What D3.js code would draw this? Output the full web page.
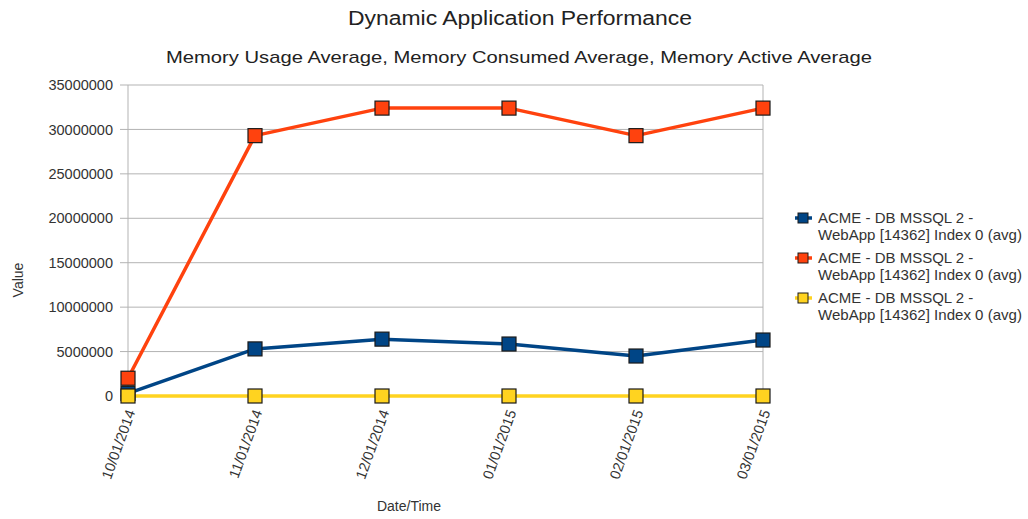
<!DOCTYPE html>
<html><head><meta charset="utf-8">
<script src="https://cdn.jsdelivr.net/npm/d3@7"></script>
<style>body{margin:0;background:#fff}svg{display:block;font-family:"Liberation Sans",Arial,sans-serif}</style>
</head><body><svg id="c" width="1028" height="519"></svg>
<script>
const categories = ["10/01/2014","11/01/2014","12/01/2014","01/01/2015","02/01/2015","03/01/2015"];
const seriesNames = ["ACME - DB MSSQL 2 - WebApp [14362] Index 0 (avg)","ACME - DB MSSQL 2 - WebApp [14362] Index 0 (avg)","ACME - DB MSSQL 2 - WebApp [14362] Index 0 (avg)"];
const usage = [300000, 5300000, 6400000, 5850000, 4500000, 6300000];
const consumed = [2000000, 29300000, 32400000, 32400000, 29300000, 32400000];
const active = [0, 0, 0, 0, 0, 0];
const yTicks = [0,5000000,10000000,15000000,20000000,25000000,30000000,35000000];
const colors = ["#004586","#ff420e","#ffd320"];
const series = [usage, consumed, active];

const svg = d3.select("#c");
const x = d3.scalePoint().domain(categories).range([128, 763]);
const y = d3.scaleLinear().domain([0, 35000000]).range([396, 85]);

// titles
svg.append("text").attr("x",520).attr("y",25).attr("text-anchor","middle")
  .attr("font-size",20).attr("fill","#222").attr("textLength",344).attr("lengthAdjust","spacingAndGlyphs")
  .text("Dynamic Application Performance");
svg.append("text").attr("x",519).attr("y",63).attr("text-anchor","middle")
  .attr("font-size",17).attr("fill","#222").attr("textLength",706).attr("lengthAdjust","spacingAndGlyphs")
  .text("Memory Usage Average, Memory Consumed Average, Memory Active Average");

// grid
svg.append("g").selectAll("line").data(yTicks).join("line")
  .attr("x1",120).attr("x2",763).attr("y1",d=>y(d)).attr("y2",d=>y(d))
  .attr("stroke","#b3b3b3").attr("stroke-width",1);
svg.append("line").attr("x1",763).attr("x2",763).attr("y1",y(35000000)).attr("y2",y(0)).attr("stroke","#b3b3b3");
svg.append("line").attr("x1",128).attr("x2",128).attr("y1",y(35000000)).attr("y2",y(0)+5).attr("stroke","#b3b3b3");

// y axis labels
const yAxis = d3.axisLeft(y).tickValues(yTicks).tickSize(0).tickPadding(15).tickFormat(d3.format("d"));
const ya = svg.append("g").attr("transform","translate(128,0)").call(yAxis);
ya.select(".domain").remove();
ya.selectAll("text").attr("font-size",14.5).attr("fill","#333").attr("font-family","Liberation Sans, Arial, sans-serif");

// x axis labels
const xAxis = d3.axisBottom(x).tickSize(0).tickPadding(0);
const xa = svg.append("g").attr("transform","translate(0,396)").call(xAxis);
xa.select(".domain").remove();
xa.selectAll("text").attr("font-size",14.5).attr("fill","#333").attr("font-family","Liberation Sans, Arial, sans-serif")
  .attr("text-anchor","end").attr("dy",0).attr("y",0)
  .attr("transform","translate(7,16) rotate(-70)");

// axis titles
svg.append("text").attr("transform","translate(23,280) rotate(-90)").attr("text-anchor","middle")
  .attr("font-size",14).attr("fill","#333").text("Value");
svg.append("text").attr("x",409).attr("y",511).attr("text-anchor","middle")
  .attr("font-size",14).attr("fill","#333").text("Date/Time");

// lines and markers
const line = d3.line().x((d,i)=>x(categories[i])).y(d=>y(d));
series.forEach((s,k)=>{
  svg.append("path").datum(s).attr("d",line).attr("fill","none")
    .attr("stroke",colors[k]).attr("stroke-width",3.5).attr("stroke-linejoin","round");
});
series.forEach((s,k)=>{
  svg.append("g").selectAll("rect").data(s).join("rect")
    .attr("x",(d,i)=>x(categories[i])-7).attr("y",d=>y(d)-7)
    .attr("width",14).attr("height",14)
    .attr("fill",colors[k]).attr("stroke","#1a1a1a").attr("stroke-width",1.2);
});

// legend
const legY = [218, 258, 298];
seriesNames.forEach((name,k)=>{
  const g = svg.append("g").attr("transform",`translate(0,${legY[k]})`);
  g.append("line").attr("x1",795).attr("x2",812).attr("y1",0).attr("y2",0).attr("stroke",colors[k]).attr("stroke-width",3.5);
  g.append("rect").attr("x",798).attr("y",-5).attr("width",10).attr("height",10)
    .attr("fill",colors[k]).attr("stroke","#1a1a1a").attr("stroke-width",1);
  const parts = name.split(" - WebApp");
  g.append("text").attr("x",818).attr("y",5).attr("font-size",15).attr("fill","#333").text(parts[0] + " -");
  g.append("text").attr("x",818).attr("y",22).attr("font-size",15).attr("fill","#333")
    .attr("textLength",204).attr("lengthAdjust","spacingAndGlyphs").text("WebApp" + parts[1]);
});
</script>
</body></html>
